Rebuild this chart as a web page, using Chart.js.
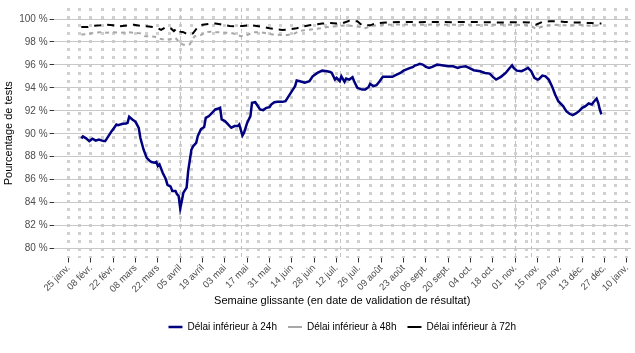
<!DOCTYPE html>
<html lang="fr">
<head>
<meta charset="utf-8">
<script src="https://cdn.jsdelivr.net/npm/chart.js@4"></script>
<style>
  html, body { margin: 0; padding: 0; background: #fff; }
  #wrap { width: 635px; height: 353px; }
</style>
</head>
<body>
<div id="wrap"><canvas id="chart"></canvas></div>
<script>
// jours comptés depuis le 25 janv. 2021 (jour 0)
const ticksJours = [0, 14, 28, 42, 56, 70, 84, 98, 112, 126, 140, 154, 168, 182, 196, 210, 224, 238, 252, 266, 280, 294, 308, 322, 336, 350];
const ticksLabels = ['25 janv.', '08 févr.', '22 févr.', '08 mars', '22 mars', '05 avril', '19 avril', '03 mai', '17 mai', '31 mai',
  '14 juin', '28 juin', '12 juil.', '26 juil.', '09 août', '23 août', '06 sept.', '20 sept.', '04 oct.', '18 oct.',
  '01 nov.', '15 nov.', '29 nov.', '13 déc.', '27 déc.', '10 janv.'];
const ticksPct = [80, 82, 84, 86, 88, 90, 92, 94, 96, 98, 100];
const joursFeries = [70, 108, 170, 280, 290];

const jours24 = [8, 9, 11, 13, 15, 17, 19, 22, 23, 25, 27, 28, 30, 31, 34, 36, 37, 38, 40, 42, 44, 45, 47, 49, 51, 52, 54, 55, 56, 57,
  59, 61, 62, 64, 65, 67, 68, 69, 70, 71, 72, 74, 75, 77, 78, 80, 81, 83, 85, 86, 88, 90, 92, 94, 95, 96, 98, 100, 102, 104,
  106, 107, 109, 110, 112, 114, 115, 117, 118, 120, 122, 124, 126, 127, 129, 131, 134, 136, 138, 140, 142, 143, 145, 148, 151, 153, 156, 159, 162, 164,
  165, 167, 168, 170, 171, 173, 174, 176, 178, 179, 181, 184, 186, 188, 189, 191, 193, 195, 197, 200, 203, 205, 208, 210, 213, 216, 217, 219, 220, 222,
  224, 226, 228, 231, 235, 238, 241, 244, 246, 249, 251, 254, 258, 261, 264, 266, 268, 271, 274, 276, 278, 279, 281, 284, 286, 288, 290, 292, 294, 295,
  297, 299, 301, 303, 305, 307, 310, 312, 314, 316, 318, 320, 322, 324, 326, 328, 329, 331, 332, 333, 334];
const delai24 = [89.6, 89.77, 89.6, 89.36, 89.57, 89.4, 89.5, 89.36, 89.36, 89.8, 90.23, 90.4, 90.8, 90.75, 90.87, 90.9, 90.96, 91.48, 91.25, 91.04, 90.52, 89.65, 88.63, 87.9, 87.62, 87.54, 87.48, 87.54, 87.19, 87.33,
  86.6, 86.03, 85.54, 85.39, 85.02, 85.02, 84.73, 84.58, 83.5, 84.15, 84.87, 85.3, 86.76, 88.6, 88.9, 89.2, 89.8, 90.4, 90.58, 91.39, 91.54, 91.83, 92.12, 92.2, 92.26, 91.25, 91.1, 90.81, 90.52, 90.67,
  90.67, 90.81, 89.85, 90.09, 90.96, 91.54, 92.7, 92.75, 92.55, 92.12, 92.06, 92.26, 92.32, 92.55, 92.75, 92.78, 92.78, 92.84, 93.28, 93.71, 94.15, 94.64, 94.58, 94.45, 94.58, 95.01, 95.3, 95.5, 95.45, 95.39,
  95.3, 94.72, 94.87, 94.58, 95.01, 94.52, 94.81, 94.72, 94.93, 94.58, 94.0, 93.85, 93.85, 94.06, 94.35, 94.15, 94.23, 94.58, 94.96, 94.96, 94.96, 95.1, 95.3, 95.5, 95.68, 95.83, 95.94, 96.03, 96.09, 96.03,
  95.83, 95.74, 95.83, 96.03, 95.94, 95.88, 95.88, 95.74, 95.83, 95.88, 95.74, 95.54, 95.45, 95.3, 95.24, 94.96, 94.72, 94.96, 95.3, 95.65, 95.97, 95.74, 95.5, 95.45, 95.59, 95.74, 95.45, 94.87, 94.72, 94.78,
  95.07, 95.01, 94.72, 94.15, 93.42, 92.84, 92.41, 91.97, 91.74, 91.62, 91.77, 91.97, 92.26, 92.41, 92.64, 92.55, 92.75, 93.07, 92.7, 92.12, 91.68];

const jours48 = [8, 12, 16, 20, 24, 28, 32, 37, 41, 45, 48, 51, 54, 58, 61, 64, 67, 70, 72, 74, 76, 79, 83, 86, 89, 92, 95, 99, 103, 108,
  112, 116, 120, 124, 128, 133, 137, 141, 145, 149, 153, 158, 162, 166, 170, 174, 178, 183, 186, 189, 193, 197, 210, 220, 230, 240, 250, 260, 270, 280,
  289, 293, 297, 301, 306, 311, 316, 320, 324, 328, 332, 334];
const delai48 = [98.65, 98.7, 98.8, 98.85, 98.8, 98.85, 98.8, 98.85, 98.8, 98.75, 98.5, 98.5, 98.45, 98.25, 98.2, 98.25, 98.35, 97.9, 97.75, 97.75, 97.8, 98.5, 98.6, 98.85, 98.9, 98.85, 98.85, 98.8, 98.75, 98.5,
  98.6, 98.85, 98.85, 98.75, 98.65, 98.6, 98.6, 98.7, 98.95, 99.05, 99.1, 99.2, 99.3, 99.35, 99.4, 99.45, 99.4, 99.3, 99.2, 99.35, 99.45, 99.5, 99.52, 99.5, 99.52, 99.5, 99.5, 99.48, 99.5, 99.5,
  99.45, 99.15, 99.35, 99.45, 99.5, 99.45, 99.45, 99.5, 99.45, 99.4, 99.45, 99.45];

const jours72 = [8, 12, 16, 20, 24, 28, 32, 37, 41, 45, 49, 53, 56, 58, 61, 64, 66, 68, 70, 72, 74, 78, 81, 84, 89, 92, 95, 98, 101, 106,
  109, 114, 118, 122, 126, 131, 134, 139, 143, 147, 151, 156, 159, 164, 168, 172, 176, 181, 184, 189, 192, 195, 199, 203, 210, 220, 230, 240, 250, 260,
  270, 280, 289, 293, 297, 301, 306, 311, 316, 320, 324, 328, 332, 334];
const delai72 = [99.3, 99.3, 99.42, 99.45, 99.5, 99.45, 99.36, 99.45, 99.5, 99.4, 99.36, 99.3, 99.2, 99.05, 99.3, 99.2, 98.95, 99.2, 98.9, 98.85, 98.7, 98.75, 99.3, 99.5, 99.6, 99.6, 99.55, 99.45, 99.4, 99.36,
  99.4, 99.45, 99.4, 99.3, 99.2, 99.1, 99.05, 99.1, 99.2, 99.35, 99.45, 99.55, 99.6, 99.65, 99.6, 99.65, 99.85, 99.8, 99.45, 99.45, 99.6, 99.65, 99.7, 99.72, 99.75, 99.72, 99.75, 99.72, 99.75, 99.72,
  99.7, 99.72, 99.7, 99.5, 99.75, 99.8, 99.8, 99.75, 99.7, 99.7, 99.65, 99.65, 99.6, 99.6];

// grille verticale : une ligne par semaine
const grilleJours = [];
for (let j = 0; j <= 350; j += 7) grilleJours.push(j);

const points = (xs, ys) => xs.map((x, i) => ({ x: x, y: ys[i] }));

// lignes fines des jours fériés
const feries = {
  id: 'feries',
  beforeDatasetsDraw(chart) {
    const { ctx, chartArea, scales } = chart;
    ctx.save();
    ctx.strokeStyle = '#c4c4c4';
    ctx.lineWidth = 1;
    ctx.setLineDash([4, 3]);
    joursFeries.forEach(j => {
      const x = Math.round(scales.x.getPixelForValue(j)) + 0.5;
      ctx.beginPath();
      ctx.moveTo(x, chartArea.top);
      ctx.lineTo(x, chartArea.bottom);
      ctx.stroke();
    });
    ctx.restore();
  }
};

Chart.defaults.font.family = '"Liberation Sans", Arial, sans-serif';

new Chart(document.getElementById('chart'), {
  type: 'line',
  data: {
    datasets: [
      {
        label: 'Délai inférieur à 24h',
        data: points(jours24, delai24),
        borderColor: '#000080',
        backgroundColor: '#000080',
        borderWidth: 2.5,
        pointRadius: 0,
        order: 3
      },
      {
        label: 'Délai inférieur à 48h',
        data: points(jours48, delai48),
        borderColor: '#a8a8a8',
        backgroundColor: '#a8a8a8',
        borderWidth: 2,
        borderDash: [4, 4],
        pointRadius: 0,
        order: 2
      },
      {
        label: 'Délai inférieur à 72h',
        data: points(jours72, delai72),
        borderColor: '#000000',
        backgroundColor: '#000000',
        borderWidth: 2,
        borderDash: [7, 6],
        pointRadius: 0,
        order: 1
      }
    ]
  },
  options: {
    responsive: true,
    maintainAspectRatio: false,
    animation: false,
    layout: { padding: { left: 2, right: 3, top: 2, bottom: 11 } },
    plugins: {
      tooltip: { enabled: false },
      legend: {
        position: 'bottom',
        fullSize: false,
        labels: {
          usePointStyle: true,
          pointStyle: 'line',
          pointStyleWidth: 14,
          boxHeight: 10,
          color: '#000',
          font: { size: 10 },
          padding: 11,
          sort: (a, b) => a.datasetIndex - b.datasetIndex
        }
      }
    },
    scales: {
      x: {
        type: 'linear',
        min: -9.4,
        max: 352.5,
        afterBuildTicks: s => { s.ticks = grilleJours.map(v => ({ value: v })); },
        ticks: {
          autoSkip: false,
          minRotation: 45,
          maxRotation: 45,
          color: '#4d4d4d',
          font: { size: 9.5 },
          padding: 0,
          callback: v => (v % 14 === 0 ? ticksLabels[ticksJours.indexOf(v)] : '')
        },
        grid: {
          color: '#d0d0d0',
          lineWidth: 3,
          tickLength: 4,
          tickWidth: 1,
          tickBorderDash: [],
          tickColor: c => (c.tick && c.tick.value % 14 === 0 ? '#333333' : 'rgba(0,0,0,0)')
        },
        border: { display: false, dash: [3, 5] },
        title: {
          display: true,
          text: 'Semaine glissante (en date de validation de résultat)',
          color: '#000',
          font: { size: 11 },
          padding: { top: 0, bottom: 3 }
        }
      },
      y: {
        min: 79.13,
        max: 100.96,
        afterBuildTicks: s => { s.ticks = ticksPct.map(v => ({ value: v })); },
        ticks: {
          color: '#4d4d4d',
          font: { size: 10 },
          padding: 2,
          callback: v => v + ' %'
        },
        grid: {
          color: '#c8c8c8',
          lineWidth: 1,
          tickLength: 4,
          tickColor: '#333333'
        },
        border: { display: false },
        title: {
          display: true,
          text: 'Pourcentage de tests',
          color: '#000',
          font: { size: 11 },
          padding: { top: 0, bottom: 2 }
        }
      }
    }
  },
  plugins: [feries]
});
</script>
</body>
</html>
